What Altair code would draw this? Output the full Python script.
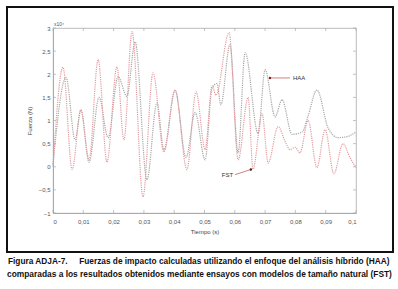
import altair as alt
import pandas as pd

# --- data (time in s, force in x10^4 N) ---
fst_t = [0.0000, 0.0033, 0.0063, 0.0092, 0.0119, 0.0149, 0.0178, 0.0211, 0.0234, 0.0261,
         0.0297, 0.0330, 0.0366, 0.0403, 0.0442, 0.0472, 0.0502, 0.0525, 0.0538, 0.0581,
         0.0611, 0.0644, 0.0660, 0.0690, 0.0710, 0.0743, 0.0766, 0.0782, 0.0799, 0.0815,
         0.0842, 0.0871, 0.0898, 0.0927, 0.0957, 0.0980, 0.1000]
fst_v = [0.00, 2.15, -0.06, 1.23, 0.15, 2.32, 0.10, 2.16, 0.58, 2.92,
         -0.65, 2.03, 0.32, 1.66, -0.06, 1.62, 0.37, 1.75, 1.55, 2.90,
         0.15, 1.50, -0.05, 1.15, 0.08, 0.87, 0.55, 0.37, 0.42, 0.30,
         1.00, -0.02, 0.80, -0.15, 0.50, 0.20, -0.02]
haa_t = [0.0000, 0.0043, 0.0073, 0.0092, 0.0119, 0.0152, 0.0182, 0.0215, 0.0244, 0.0271,
         0.0310, 0.0343, 0.0366, 0.0403, 0.0439, 0.0469, 0.0502, 0.0525, 0.0541, 0.0554,
         0.0584, 0.0611, 0.0634, 0.0677, 0.0700, 0.0733, 0.0756, 0.0789, 0.0822, 0.0842,
         0.0871, 0.0908, 0.0941, 0.0970, 0.1000]
haa_v = [0.05, 1.93, 0.58, 1.23, 0.10, 1.50, 0.63, 1.95, 1.52, 2.70,
         -0.28, 1.38, 0.37, 1.65, 0.20, 1.17, 0.15, 1.70, 1.80, 1.34,
         2.64, 0.30, 2.47, 0.72, 2.10, 1.08, 1.45, 0.70, 0.75, 1.10,
         1.66, 0.84, 0.63, 0.65, 0.75]

x_ticks = [0, 0.01, 0.02, 0.03, 0.04, 0.05, 0.06, 0.07, 0.08, 0.09, 0.1]
y_ticks = [-1, -0.5, 0, 0.5, 1, 1.5, 2, 2.5, 3]

x_title = "Tiempo (s)"
y_title = "Fuerza (N)"
y_exp = "x10⁴"
label_haa = "HAA"
label_fst = "FST"
NB = "\u00a0"
caption_1 = "Figura ADJA-7." + NB * 5 + "Fuerzas de impacto calculadas utilizando el enfoque del análisis híbrido (HAA)"
caption_2 = "comparadas a los resultados obtenidos mediante ensayos con modelos de tamaño natural (FST)"

# annotation anchor points (data coords)
haa_arrow_t = [0.0716, 0.0782]
haa_arrow_v = [1.92, 1.92]
fst_arrow_t = [0.0601, 0.0653]
fst_arrow_v = [-0.17, -0.06]

RED = "#e29ca0"
GRAY = "#a6a6a6"
FONT = "Liberation Sans"

haa = pd.DataFrame({"t": haa_t, "v": haa_v})
fst = pd.DataFrame({"t": fst_t, "v": fst_v})

xs = alt.Scale(domain=[0, 0.1], nice=False, zero=False)
ys = alt.Scale(domain=[-1, 3], nice=False, zero=False)

lab_expr = "replace(format(datum.value, ''), '.', ',')"

X = alt.X("t:Q", scale=xs,
          axis=alt.Axis(values=x_ticks, title=x_title, labelExpr=lab_expr, ticks=False,
                        grid=False, domainColor="#aaaaaa", labelFontSize=6, labelColor="#555555",
                        labelFont=FONT, labelPadding=5, titleFont=FONT, titleFontSize=6,
                        titleFontWeight="normal", titleColor="#444444", titlePadding=4))
Y = alt.Y("v:Q", scale=ys,
          axis=alt.Axis(values=y_ticks, title=y_title, labelExpr=lab_expr, ticks=False,
                        grid=False, domainColor="#aaaaaa", labelFontSize=6, labelColor="#555555",
                        labelFont=FONT, labelPadding=3, titleFont=FONT, titleFontSize=6,
                        titleFontWeight="normal", titleColor="#444444", titlePadding=6))

haa_line = alt.Chart(haa).mark_line(color=GRAY, strokeWidth=1.2, strokeDash=[1.2, 1],
                                    interpolate="monotone").encode(x=X, y=Y)
fst_line = alt.Chart(fst).mark_line(color=RED, strokeWidth=1.2, strokeDash=[1.2, 1],
                                    interpolate="monotone").encode(x=X, y=Y)

# inward ticks
xt = pd.DataFrame({"t": x_ticks})
yt = pd.DataFrame({"v": y_ticks})
tick_col = "#aaaaaa"
xt_b = alt.Chart(xt).mark_rule(color=tick_col, strokeWidth=0.7).encode(
    x=X, y=alt.value(185), y2=alt.value(182))
xt_t = alt.Chart(xt).mark_rule(color=tick_col, strokeWidth=0.7).encode(
    x=X, y=alt.value(0), y2=alt.value(3))
yt_l = alt.Chart(yt).mark_rule(color=tick_col, strokeWidth=0.7).encode(
    y=Y, x=alt.value(0), x2=alt.value(3))
yt_r = alt.Chart(yt).mark_rule(color=tick_col, strokeWidth=0.7).encode(
    y=Y, x=alt.value(303), x2=alt.value(300))

# annotations
haa_ar = pd.DataFrame({"t": haa_arrow_t, "v": haa_arrow_v})
fst_ar = pd.DataFrame({"t": fst_arrow_t, "v": fst_arrow_v})
haa_arrow = alt.Chart(haa_ar).mark_line(color="#c86060", strokeWidth=0.8).encode(x=X, y=Y)
fst_arrow = alt.Chart(fst_ar).mark_line(color="#c86060", strokeWidth=0.8).encode(x=X, y=Y)
haa_dot = alt.Chart(haa_ar.iloc[[0]]).mark_point(filled=True, size=6, color="#802020", opacity=1).encode(x=X, y=Y)
fst_dot = alt.Chart(fst_ar.iloc[[1]]).mark_point(filled=True, size=6, color="#402020", opacity=1).encode(x=X, y=Y)
haa_txt = alt.Chart(haa_ar.iloc[[1]]).mark_text(text=label_haa, align="left", dx=3, fontSize=6,
                                                font=FONT, color="#333333").encode(x=X, y=Y)
fst_txt = alt.Chart(fst_ar.iloc[[0]]).mark_text(text=label_fst, align="right", dx=-2, fontSize=6,
                                                font=FONT, color="#333333").encode(x=X, y=Y)

one = pd.DataFrame({"a": [0]})
exp_txt = alt.Chart(one).mark_text(text=y_exp, align="left", fontSize=5, font=FONT,
                                   color="#555555").encode(x=alt.value(1), y=alt.value(-4))

box = alt.Chart(one).mark_rect(filled=False, stroke="#111111", strokeWidth=2).encode(
    x=alt.value(-46), x2=alt.value(340), y=alt.value(-21), y2=alt.value(224))

cap1 = alt.Chart(one).mark_text(text=caption_1, align="left", baseline="middle", fontSize=8.3,
                                fontWeight="bold", font=FONT, color="#111111").encode(
    x=alt.value(-45), y=alt.value(234))
cap2 = alt.Chart(one).mark_text(text=caption_2, align="left", baseline="middle", fontSize=8.4,
                                fontWeight="bold", font=FONT, color="#111111").encode(
    x=alt.value(-46), y=alt.value(246))

chart = alt.layer(
    haa_line, fst_line, xt_b, xt_t, yt_l, yt_r, haa_arrow, fst_arrow, haa_dot, fst_dot,
    haa_txt, fst_txt, exp_txt, box, cap1, cap2
).properties(
    width=303, height=185,
    autosize=alt.AutoSizeParams(type="none"),
    padding={"left": 53, "top": 28, "right": 42, "bottom": 76},
    background="white",
).configure_view(stroke="#aaaaaa", strokeWidth=0.8)

chart.save("out.html", embed_options={"renderer": "svg", "actions": False})
